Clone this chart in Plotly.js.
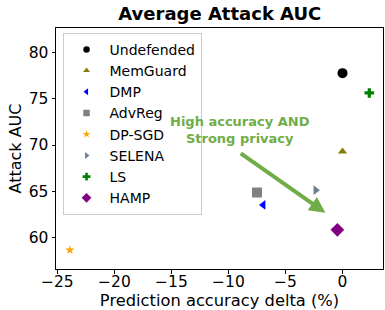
<!DOCTYPE html>
<html>
<head>
<meta charset="utf-8">
<script src="https://cdn.plot.ly/plotly-3.0.1.min.js"></script>
<style>html,body{margin:0;padding:0;background:#fff;}#chart{width:385px;height:310px;}</style>
</head>
<body>
<div id="chart"></div>
<script>
var methods = ["Undefended", "MemGuard", "DMP", "AdvReg", "DP-SGD", "SELENA", "LS", "HAMP"];
var accDelta = [0.0, 0.0, -6.95, -7.5, -23.9, -2.35, 2.35, -0.45];
var attackAUC = [77.8, 69.3, 63.5, 64.85, 58.6, 65.1, 75.65, 60.8];
var colors = ["#000000", "#808000", "#0000ff", "#808080", "#ffa500", "#708090", "#008000", "#800080"];
var symbols = ["circle", "triangle-up", "triangle-left", "square", "star", "triangle-right", "cross", "diamond"];
var sizes = [10, 8, 8.5, 10, 7, 8.5, 8, 10.5];
var legendSizes = [6.5, 6, 6, 6.5, 6, 6, 6.5, 7.5];
var annText = "High accuracy AND<br>Strong privacy";
var arrowTail = [-9.05, 69.2];
var arrowHead = [-1.5, 62.65];

var traces = [];
methods.forEach(function(m, i) {
  traces.push({
    x: [accDelta[i]], y: [attackAUC[i]], name: m, type: "scatter", mode: "markers",
    showlegend: false, hoverinfo: "skip",
    marker: {color: colors[i], symbol: symbols[i], size: sizes[i], line: {width: 0}}
  });
});
methods.forEach(function(m, i) {
  traces.push({
    x: [null], y: [null], name: m, type: "scatter", mode: "markers",
    showlegend: true,
    marker: {color: colors[i], symbol: symbols[i], size: legendSizes[i], line: {width: 0}}
  });
});

var font = "DejaVu Sans, sans-serif";
var layout = {
  width: 385, height: 310,
  margin: {l: 56, r: 2, t: 28, b: 41},
  paper_bgcolor: "#fff", plot_bgcolor: "#fff",
  font: {family: font, size: 15, color: "#000"},
  title: {text: "<b>Average Attack AUC</b>", font: {family: font, size: 18, color: "#000"}, x: 0.571, xanchor: "center", y: 0.955, yanchor: "middle"},
  xaxis: {
    range: [-25.12, 3.55], tickvals: [-25, -20, -15, -10, -5, 0],
    showgrid: false, zeroline: false, showline: true, linecolor: "#000", linewidth: 1, mirror: true,
    ticks: "outside", ticklen: 3.5, tickcolor: "#000", tickfont: {size: 15.5}, ticklabelstandoff: -5,
    title: {text: "Prediction accuracy delta (%)", font: {size: 16.3}, standoff: 0}
  },
  yaxis: {
    range: [56.55, 82.7], tickvals: [60, 65, 70, 75, 80],
    showgrid: false, zeroline: false, showline: true, linecolor: "#000", linewidth: 1, mirror: true,
    ticks: "outside", ticklen: 3.5, tickcolor: "#000", tickfont: {size: 15.5},
    title: {text: "Attack AUC", font: {size: 16}, standoff: 3}
  },
  showlegend: true,
  legend: {
    x: 0.02, y: 0.98, xanchor: "left", yanchor: "top",
    bgcolor: "rgba(255,255,255,0.8)", bordercolor: "#cccccc", borderwidth: 1,
    font: {size: 14}, tracegroupgap: 0, itemwidth: 36, itemsizing: "trace"
  },
  annotations: [
    {x: arrowHead[0], y: arrowHead[1], ax: arrowTail[0], ay: arrowTail[1], xref: "x", yref: "y", axref: "x", ayref: "y",
     text: "", showarrow: true, arrowhead: 2, arrowsize: 0.8, arrowwidth: 4, arrowcolor: "#70ad47", standoff: 0, startstandoff: 0},
    {x: -9.0, y: 71.6, xref: "x", yref: "y", text: "<b>" + annText + "</b>", showarrow: false,
     font: {family: font, size: 13, color: "#70ad47"}, align: "center", xanchor: "center", yanchor: "middle"}
  ]
};
Plotly.newPlot("chart", traces, layout, {staticPlot: true, displayModeBar: false});
</script>
</body>
</html>
